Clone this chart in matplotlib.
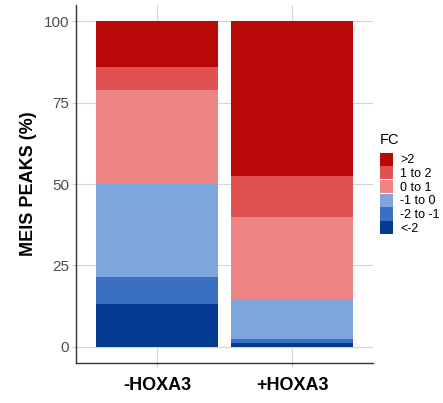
import matplotlib
matplotlib.use("Agg")
import matplotlib.pyplot as plt
from matplotlib.patches import Patch
import numpy as np

plt.rcParams['font.family'] = ['Liberation Sans', 'DejaVu Sans']

# stacked shares of MEIS peaks per FC bin (bottom to top)
groups = ["-HOXA3", "+HOXA3"]
fc_bins = ["<-2", "-2 to -1", "-1 to 0", "0 to 1", "1 to 2", ">2"]
minus_hoxa3 = [13.2, 8.2, 28.9, 28.6, 7.2, 13.9]
plus_hoxa3 = [1.0, 1.5, 12.0, 25.4, 12.6, 47.5]
bin_colors = ["#033A91", "#3A6FC1", "#7EA6DD", "#EE8585", "#E05252", "#B80808"]

yticks = [0, 25, 50, 75, 100]

fig = plt.figure(figsize=(4.43, 4.03), dpi=100)
ax = fig.add_axes([0.1716, 0.0993, 0.6704, 0.888])

vals = np.array([minus_hoxa3, plus_hoxa3])
x = np.arange(len(groups))
bottom = np.zeros(len(groups))
for i, lab in enumerate(fc_bins):
    ax.bar(x, vals[:, i], bottom=bottom, width=0.9, color=bin_colors[i],
           label=lab, zorder=2)
    bottom += vals[:, i]

ax.set_xlim(-0.6, 1.6)
ax.set_ylim(-5, 105)
ax.set_yticks(yticks)
ax.set_xticks(x)
ax.set_xticklabels(groups, fontsize=13, fontweight="bold", color="black")
ax.tick_params(axis="y", labelsize=11, colors="#4D4D4D", length=3, width=0.8, pad=2)
ax.tick_params(axis="x", length=3, width=0.8, color="#CCCCCC", pad=7)
ax.tick_params(axis="y", color="#CCCCCC")
ax.grid(True, color="#D6D6D6", lw=0.8, zorder=0)

for s in ["top", "right"]:
    ax.spines[s].set_visible(False)
for s in ["left", "bottom"]:
    ax.spines[s].set_color("#333333")
    ax.spines[s].set_linewidth(1.0)

ax.set_ylabel("MEIS PEAKS (%)", fontsize=13, fontweight="bold", labelpad=5)

handles = [Patch(facecolor=c, label=l) for c, l in zip(bin_colors[::-1], fc_bins[::-1])]
leg = fig.legend(handles=handles, title="FC", loc="upper left",
                 bbox_to_anchor=(0.858, 0.670), frameon=False, fontsize=9,
                 title_fontsize=10.5, handlelength=1.05, handleheight=1.23,
                 handletextpad=0.55, labelspacing=0.0, borderaxespad=0,
                 borderpad=0)
leg._legend_box.align = "left"
leg._legend_box.sep = 4

fig.savefig("out.png", dpi=100)
